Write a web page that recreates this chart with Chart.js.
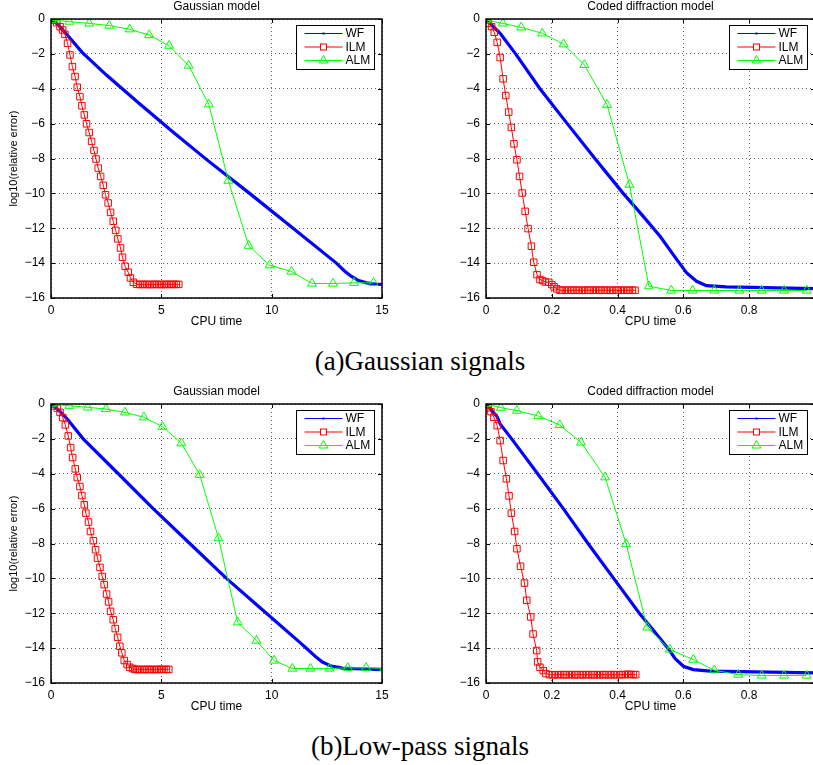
<!DOCTYPE html>
<html>
<head>
<meta charset="utf-8">
<script src="https://cdn.jsdelivr.net/npm/chart.js@4.4.1/dist/chart.umd.min.js"></script>
<style>
  html, body { margin: 0; padding: 0; background: #fff; overflow: hidden; width: 813px; height: 765px; }
  .panel { position: absolute; }
  .panel canvas { display: block; }
  .caption { position: absolute; left: 0; width: 840px; text-align: center;
             font-family: "Liberation Serif", "Times New Roman", serif; font-size: 27px; color: #000; line-height: 30px; }
</style>
</head>
<body>
<div class="panel" style="left:0;top:0"><canvas id="gsGauss" width="400" height="340"></canvas></div>
<div class="panel" style="left:410px;top:0"><canvas id="gsCdp" width="420" height="340"></canvas></div>
<div class="panel" style="left:0;top:385px"><canvas id="lpGauss" width="400" height="340"></canvas></div>
<div class="panel" style="left:410px;top:385px"><canvas id="lpCdp" width="420" height="340"></canvas></div>
<div class="caption" style="top:346px">(a)Gaussian signals</div>
<div class="caption" style="top:731px">(b)Low-pass signals</div>

<script>
// ---- (a) Gaussian signals, Gaussian model: [CPU time, log10(relative error)]
const gsGaussWF = [[0,0],[0.3,-0.3],[0.8,-1.0],[1.4,-1.9],[2.5,-3.2],[4.0,-4.85],[5.5,-6.45],[7.04,-8.05],
  [9.0,-10.0],[10.97,-12.0],[12.93,-14.0],[13.3,-14.45],[13.6,-14.75],[13.9,-14.98],[14.3,-15.13],
  [14.7,-15.2],[15,-15.22]];
const gsGaussILM = [[0.02,-0.02],[0.11,-0.06],[0.26,-0.21],[0.41,-0.44],[0.53,-0.63],[0.63,-0.88],[0.75,-1.39],
  [0.86,-2.06],[0.97,-2.73],[1.09,-3.30],[1.19,-3.91],[1.31,-4.45],[1.40,-4.98],[1.51,-5.50],[1.61,-6.01],
  [1.73,-6.51],[1.84,-7.02],[1.95,-7.54],[2.04,-8.03],[2.14,-8.55],[2.25,-9.03],[2.37,-9.54],[2.47,-10.08],
  [2.59,-10.55],[2.70,-11.09],[2.82,-11.60],[2.93,-12.12],[3.03,-12.61],[3.15,-13.13],[3.24,-13.66],
  [3.36,-14.18],[3.50,-14.52],[3.60,-14.85],[3.73,-15.10],[3.88,-15.21],[4.03,-15.23],[4.14,-15.22],
  [4.25,-15.22],[4.36,-15.22],[4.47,-15.23],[4.58,-15.22],[4.69,-15.22],[4.80,-15.22],[4.91,-15.22],
  [5.02,-15.23],[5.13,-15.22],[5.24,-15.22],[5.35,-15.22],[5.46,-15.22],[5.57,-15.22],[5.68,-15.22],[5.79,-15.22]];
const gsGaussALM = [[0.03,-0.06],[0.83,-0.15],[1.73,-0.25],[2.64,-0.38],[3.57,-0.59],[4.45,-0.92],[5.35,-1.53],
  [6.24,-2.67],[7.15,-4.89],[8.04,-9.27],[8.96,-13.0],[9.91,-14.12],[10.9,-14.48],[11.83,-15.17],
  [12.78,-15.17],[13.73,-15.13],[14.62,-15.13]];

// ---- (a) Gaussian signals, coded diffraction model
const gsCdpWF = [[0,0],[0.017,-0.34],[0.043,-0.82],[0.09,-2.0],[0.164,-4.0],[0.247,-6.0],[0.331,-8.0],
  [0.417,-10.0],[0.478,-11.32],[0.529,-12.46],[0.58,-13.8],[0.61,-14.56],[0.64,-15.04],[0.67,-15.29],
  [0.73,-15.36],[1.0,-15.46]];
const gsCdpILM = [[0,-0.06],[0.007,-0.25],[0.017,-0.44],[0.025,-0.76],[0.034,-1.34],[0.043,-2.21],[0.052,-3.43],
  [0.060,-4.39],[0.069,-5.34],[0.077,-6.22],[0.085,-7.16],[0.094,-8.07],[0.102,-9.03],[0.110,-9.98],
  [0.119,-11.03],[0.128,-12.02],[0.138,-13.03],[0.145,-13.95],[0.155,-14.66],[0.164,-14.94],[0.172,-15.0],
  [0.180,-15.08],[0.191,-15.1],[0.200,-15.23],[0.207,-15.36],[0.215,-15.48],[0.225,-15.55],[0.232,-15.56],
  [0.241,-15.56],[0.249,-15.55],[0.258,-15.56],[0.266,-15.56],[0.275,-15.55],[0.283,-15.56],[0.292,-15.56],
  [0.300,-15.56],[0.309,-15.55],[0.317,-15.56],[0.326,-15.56],[0.334,-15.55],[0.343,-15.56],[0.351,-15.56],
  [0.360,-15.55],[0.368,-15.56],[0.377,-15.56],[0.385,-15.56],[0.394,-15.55],[0.402,-15.56],[0.411,-15.56],
  [0.419,-15.55],[0.428,-15.56],[0.436,-15.56],[0.445,-15.55],[0.453,-15.56]];
const gsCdpALM = [[0,-0.06],[0.051,-0.25],[0.107,-0.48],[0.171,-0.82],[0.236,-1.45],[0.299,-2.63],[0.368,-4.92],
  [0.436,-9.50],[0.495,-15.32],[0.563,-15.57],[0.628,-15.57],[0.694,-15.57],[0.770,-15.57],[0.838,-15.57],
  [0.906,-15.57],[0.975,-15.57]];

// ---- (b) Low-pass signals, Gaussian model
const lpGaussWF = [[0,0],[0.3,-0.3],[0.71,-0.82],[1.46,-2.0],[3.05,-4.0],[4.63,-6.0],[6.29,-8.0],[7.95,-10.0],
  [9.76,-12.0],[11.3,-13.7],[11.7,-14.15],[12.0,-14.5],[12.3,-14.8],[12.7,-15.03],[13.2,-15.15],[15,-15.23]];
const lpGaussILM = [[0,0],[0.15,-0.11],[0.29,-0.25],[0.41,-0.48],[0.53,-0.78],[0.65,-1.2],[0.78,-1.83],
  [0.89,-2.50],[0.98,-3.07],[1.10,-3.72],[1.19,-4.22],[1.31,-4.73],[1.40,-5.25],[1.51,-5.78],[1.58,-6.26],
  [1.70,-6.77],[1.79,-7.31],[1.92,-7.84],[2.02,-8.36],[2.11,-8.84],[2.22,-9.37],[2.32,-9.89],[2.41,-10.36],
  [2.52,-10.90],[2.61,-11.35],[2.70,-11.89],[2.82,-12.37],[2.91,-12.88],[3.02,-13.38],[3.12,-13.89],
  [3.21,-14.27],[3.32,-14.71],[3.45,-14.94],[3.57,-15.10],[3.70,-15.17],[3.80,-15.22],[3.91,-15.23],
  [4.02,-15.22],[4.13,-15.22],[4.24,-15.23],[4.35,-15.22],[4.46,-15.22],[4.57,-15.22],[4.68,-15.23],
  [4.79,-15.22],[4.90,-15.22],[5.01,-15.22],[5.12,-15.22],[5.23,-15.22],[5.34,-15.22]];
const lpGaussALM = [[0,0],[0.83,-0.1],[1.66,-0.19],[2.49,-0.29],[3.35,-0.48],[4.21,-0.76],[5.05,-1.30],
  [5.91,-2.25],[6.74,-4.06],[7.59,-7.69],[8.46,-12.52],[9.31,-13.57],[10.11,-14.71],[10.94,-15.17],
  [11.76,-15.17],[12.62,-15.17],[13.45,-15.13],[14.28,-15.13],[15.1,-15.15]];

// ---- (b) Low-pass signals, coded diffraction model
const lpCdpWF = [[0,0],[0.034,-0.73],[0.043,-1.15],[0.078,-2.0],[0.157,-4.0],[0.235,-6.0],[0.310,-8.0],
  [0.388,-10.0],[0.466,-12.0],[0.51,-13.0],[0.553,-14.0],[0.575,-14.6],[0.60,-15.04],[0.63,-15.23],
  [0.681,-15.32],[1.0,-15.42]];
const lpCdpILM = [[0,-0.06],[0.007,-0.21],[0.015,-0.44],[0.024,-0.76],[0.034,-1.24],[0.043,-2.10],[0.052,-3.24],
  [0.062,-4.29],[0.070,-5.27],[0.077,-6.26],[0.087,-7.31],[0.094,-8.30],[0.105,-9.31],[0.117,-10.27],
  [0.124,-11.26],[0.136,-12.21],[0.143,-13.19],[0.154,-14.14],[0.157,-14.79],[0.164,-15.10],[0.174,-15.29],
  [0.182,-15.46],[0.193,-15.52],[0.202,-15.53],[0.210,-15.52],[0.219,-15.53],[0.227,-15.52],[0.236,-15.52],
  [0.244,-15.53],[0.253,-15.52],[0.261,-15.52],[0.270,-15.53],[0.278,-15.52],[0.287,-15.52],[0.295,-15.53],
  [0.304,-15.52],[0.312,-15.52],[0.321,-15.53],[0.329,-15.52],[0.338,-15.52],[0.346,-15.53],[0.355,-15.52],
  [0.363,-15.52],[0.372,-15.53],[0.380,-15.52],[0.389,-15.52],[0.397,-15.53],[0.406,-15.52],[0.414,-15.52],
  [0.423,-15.52],[0.431,-15.50],[0.440,-15.51],[0.448,-15.52],[0.455,-15.52]];
const lpCdpALM = [[0,0],[0.045,-0.21],[0.094,-0.38],[0.159,-0.69],[0.224,-1.20],[0.289,-2.21],[0.362,-4.2],
  [0.426,-8.03],[0.490,-12.81],[0.559,-14.08],[0.630,-14.66],[0.694,-15.27],[0.767,-15.52],[0.838,-15.57],
  [0.906,-15.57],[0.975,-15.57]];

// ---- axis ticks and labels
const yTicks = [0, -2, -4, -6, -8, -10, -12, -14, -16];
const xTicksGauss = [0, 5, 10, 15];
const xTicksCdp = [0, 0.2, 0.4, 0.6, 0.8, 1.0];
const seriesNames = ['WF', 'ILM', 'ALM'];
const titleGauss = 'Gaussian model';
const titleCdp = 'Coded diffraction model';
const xTitle = 'CPU time';
const yTitle = 'log10(relative error)';

const BLUE = '#0000ff', RED = '#ff0000', GREEN = '#00ff00';
const FONT = '"Liberation Sans", Arial, Helvetica, sans-serif';

function fmtNum(v) {
  const r = Math.round(v * 10) / 10;
  if (r === 0) return '0';
  return (r < 0 ? '\u2212' : '') + String(Math.abs(r));
}

function pts(arr) { return arr.map(p => ({ x: p[0], y: p[1] })); }

function drawTriangle(ctx, x, y, r) {
  ctx.beginPath();
  ctx.moveTo(x, y - r);
  ctx.lineTo(x + r * 0.866, y + r * 0.5);
  ctx.lineTo(x - r * 0.866, y + r * 0.5);
  ctx.closePath();
  ctx.stroke();
}

// frame, inward tick marks, titles and the in-axes legend
const decorations = {
  id: 'decorations',
  afterDatasetsDraw(chart, args, o) {
    const ctx = chart.ctx;
    const a = chart.chartArea;
    const xs = chart.scales.x, ys = chart.scales.y;
    ctx.save();
    ctx.strokeStyle = '#000';
    ctx.lineWidth = 1;
    // tick marks pointing into the axes
    o.xTicks.forEach(v => {
      const px = Math.round(xs.getPixelForValue(v)) + 0.5;
      ctx.beginPath();
      ctx.moveTo(px, a.bottom); ctx.lineTo(px, a.bottom - 4);
      ctx.moveTo(px, a.top); ctx.lineTo(px, a.top + 4);
      ctx.stroke();
    });
    yTicks.forEach(v => {
      const py = Math.round(ys.getPixelForValue(v)) + 0.5;
      ctx.beginPath();
      ctx.moveTo(a.left, py); ctx.lineTo(a.left + 4, py);
      ctx.moveTo(a.right, py); ctx.lineTo(a.right - 4, py);
      ctx.stroke();
    });
    // axes box
    ctx.lineWidth = 1.5;
    ctx.strokeRect(a.left, a.top, a.right - a.left, a.bottom - a.top);

    // legend
    const bw = 78, bh = 44;
    const bx = Math.round(a.right - 8 - bw) + 0.5, by = Math.round(a.top + 6) + 0.5;
    ctx.fillStyle = '#fff';
    ctx.fillRect(bx, by, bw, bh);
    ctx.lineWidth = 1;
    ctx.strokeStyle = '#000';
    ctx.strokeRect(bx, by, bw, bh);
    const colors = [BLUE, RED, GREEN];
    ctx.font = '12px ' + FONT;
    ctx.textBaseline = 'middle';
    ctx.textAlign = 'left';
    seriesNames.forEach((name, i) => {
      const ly = by + 8 + i * 13.5;
      const x0 = bx + 8, x1 = bx + 46, xm = (x0 + x1) / 2;
      ctx.strokeStyle = colors[i];
      ctx.lineWidth = 1.2;
      ctx.beginPath(); ctx.moveTo(x0, ly); ctx.lineTo(x1, ly); ctx.stroke();
      if (i === 0) {
        ctx.fillStyle = BLUE;
        ctx.fillRect(xm - 1, ly - 1, 2, 2);
      } else if (i === 1) {
        ctx.lineWidth = 1;
        ctx.fillStyle = '#fff';
        ctx.fillRect(xm - 3, ly - 3, 6, 6);
        ctx.strokeRect(xm - 3, ly - 3, 6, 6);
      } else {
        ctx.lineWidth = 1;
        drawTriangle(ctx, xm, ly, 5);
      }
      ctx.fillStyle = '#000';
      ctx.fillText(name, bx + 49, ly + 0.5);
    });

    // titles
    ctx.fillStyle = '#000';
    ctx.textAlign = 'center';
    ctx.textBaseline = 'middle';
    ctx.font = '12px ' + FONT;
    ctx.fillText(o.title, (a.left + a.right) / 2, a.top - 12);
    ctx.fillText(xTitle, (a.left + a.right) / 2, a.bottom + 24);
    if (o.yLabel) {
      ctx.save();
      ctx.font = '11px ' + FONT;
      ctx.translate(13.5, (a.top + a.bottom) / 2);
      ctx.rotate(-Math.PI / 2);
      ctx.fillText(yTitle, 0, 0);
      ctx.restore();
    }
    ctx.restore();
  }
};

function makePanel(id, cfg) {
  const gridStyle = { color: 'rgba(0,0,0,0.6)', lineWidth: 1, drawTicks: false };
  const tickFont = { family: FONT, size: 12 };
  new Chart(document.getElementById(id), {
    type: 'line',
    data: {
      datasets: [
        { label: seriesNames[0], data: pts(cfg.wf), borderColor: BLUE, backgroundColor: BLUE,
          borderWidth: 3.2, pointRadius: 0, fill: false, tension: 0, order: 3 },
        { label: seriesNames[1], data: pts(cfg.ilm), borderColor: RED, borderWidth: 1,
          pointStyle: 'rect', pointRadius: 4.6, pointBorderColor: RED, pointBorderWidth: 1,
          pointBackgroundColor: 'rgba(255,255,255,0)', fill: false, tension: 0, order: 2 },
        { label: seriesNames[2], data: pts(cfg.alm), borderColor: GREEN, borderWidth: 1,
          pointStyle: 'triangle', pointRadius: 5.2, pointBorderColor: GREEN, pointBorderWidth: 1,
          pointBackgroundColor: 'rgba(255,255,255,0)', fill: false, tension: 0, order: 1 }
      ]
    },
    options: {
      responsive: false,
      animation: false,
      devicePixelRatio: 1,
      events: [],
      layout: { padding: { left: 0, top: 19, right: cfg.padRight, bottom: 12 } },
      scales: {
        x: {
          type: 'linear', min: 0, max: cfg.xTicks[cfg.xTicks.length - 1],
          afterBuildTicks: s => { s.ticks = cfg.xTicks.map(v => ({ value: v })); },
          afterFit: s => { s.height = 30; },
          ticks: { font: tickFont, color: '#000', padding: 5, maxRotation: 0, autoSkip: false,
                   callback: v => (cfg.hideLast && v === cfg.xTicks[cfg.xTicks.length - 1]) ? '' : fmtNum(v) },
          grid: gridStyle,
          border: { display: false, dash: [1, 3] }
        },
        y: {
          type: 'linear', min: -16, max: 0,
          afterBuildTicks: s => { s.ticks = yTicks.map(v => ({ value: v })); },
          afterFit: s => { s.width = cfg.yWidth; },
          ticks: { font: tickFont, color: '#000', padding: 6, autoSkip: false, callback: v => fmtNum(v) },
          grid: gridStyle,
          border: { display: false, dash: [1, 3] }
        }
      },
      plugins: {
        legend: { display: false },
        tooltip: { enabled: false },
        decorations: { title: cfg.title, xTicks: cfg.xTicks, yLabel: cfg.yLabel }
      }
    },
    plugins: [decorations]
  });
}

makePanel('gsGauss', { wf: gsGaussWF, ilm: gsGaussILM, alm: gsGaussALM, xTicks: xTicksGauss,
  title: titleGauss, yLabel: true, yWidth: 51, padRight: 18, hideLast: false });
makePanel('gsCdp', { wf: gsCdpWF, ilm: gsCdpILM, alm: gsCdpALM, xTicks: xTicksCdp,
  title: titleCdp, yLabel: false, yWidth: 76, padRight: 15, hideLast: true });
makePanel('lpGauss', { wf: lpGaussWF, ilm: lpGaussILM, alm: lpGaussALM, xTicks: xTicksGauss,
  title: titleGauss, yLabel: true, yWidth: 51, padRight: 18, hideLast: false });
makePanel('lpCdp', { wf: lpCdpWF, ilm: lpCdpILM, alm: lpCdpALM, xTicks: xTicksCdp,
  title: titleCdp, yLabel: false, yWidth: 76, padRight: 15, hideLast: true });
</script>
</body>
</html>
